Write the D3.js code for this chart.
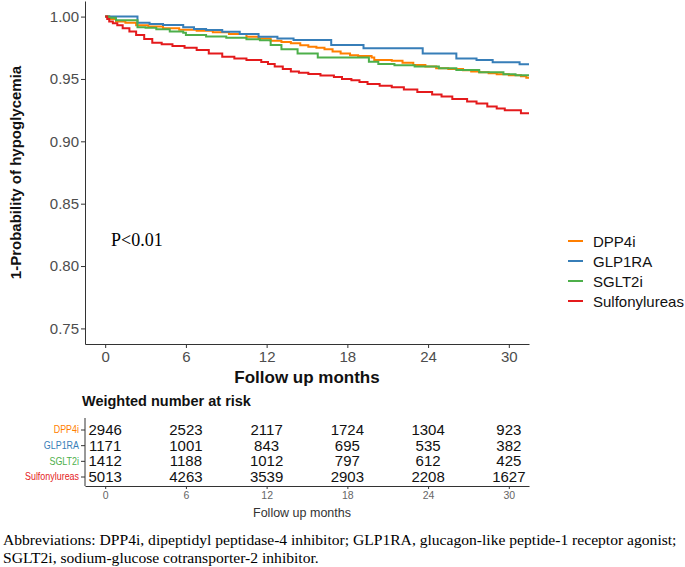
<!DOCTYPE html>
<html><head><meta charset="utf-8">
<script src="https://cdn.jsdelivr.net/npm/d3@7"></script>
<style>body{margin:0;background:#fff}svg{display:block}</style>
</head><body>
<svg id="c" width="685" height="567"></svg>
<script>
// ---- data ----
const groups = ["DPP4i", "GLP1RA", "SGLT2i", "Sulfonylureas"];
const colors = ["#FF7F00", "#377EB8", "#4DAF4A", "#E41A1C"];

const dppTime = [0,0.3,0.8,1.5,2.3,3.2,4.3,5.5,6.8,8.0,9.2,10.5,11.4,12.3,13.1,13.8,14.5,15.1,15.7,16.3,16.9,17.5,18.2,18.8,19.8,20.0,21.3,22.1,22.9,23.8,24.6,25.5,26.6,27.2,27.8,28.5,29.1,30.0,30.9,31.3];
const dppSurv = [1.0,0.998,0.996,0.995,0.993,0.992,0.9906,0.9895,0.9887,0.9875,0.986,0.9839,0.9825,0.9807,0.9796,0.9786,0.977,0.9758,0.975,0.9738,0.972,0.9705,0.969,0.9684,0.9673,0.9652,0.9646,0.963,0.9612,0.960,0.9585,0.958,0.957,0.956,0.9553,0.9545,0.9537,0.953,0.9522,0.951];

const glpTime = [0,2.4,3.3,4.3,5.8,6.6,7.5,8.7,10.0,11.4,12.8,14.0,16.8,19.2,23.6,26.1,27.6,28.8,30.8];
const glpSurv = [1.0,0.995,0.994,0.9933,0.9914,0.990,0.9892,0.9879,0.986,0.9839,0.9825,0.9812,0.9772,0.9746,0.9705,0.9665,0.9652,0.9633,0.9617];

const sgltTime = [0,0.3,0.8,2.4,3.0,3.8,4.8,5.8,6.0,7.5,9.0,10.5,11.5,12.3,13.1,14.3,15.8,19.6,20.3,21.5,23.0,24.8,26.1,27.8,29.6,30.5];
const sgltSurv = [1.0,0.999,0.997,0.9914,0.991,0.9898,0.988,0.987,0.9852,0.984,0.983,0.9818,0.981,0.9772,0.9738,0.9705,0.9673,0.9638,0.962,0.961,0.960,0.9585,0.9571,0.9553,0.9537,0.953];

const suTime = [0,0.15,0.3,0.57,0.9,1.3,1.8,2.3,2.9,3.5,4.2,5.0,5.9,6.8,7.7,8.7,9.6,10.5,11.6,12.1,12.6,13.2,13.8,14.4,15.1,16.0,17.0,17.6,18.3,18.9,19.5,20.4,21.3,22.2,23.2,24.3,25.0,25.8,26.9,27.6,28.4,29.1,29.7,30.9];
const suSurv = [1.0,0.998,0.996,0.9946,0.993,0.9906,0.988,0.9852,0.982,0.979,0.9778,0.9764,0.975,0.9732,0.9705,0.9678,0.9665,0.9652,0.9636,0.962,0.960,0.958,0.956,0.955,0.954,0.9528,0.9515,0.950,0.949,0.9475,0.946,0.9445,0.9434,0.9415,0.9395,0.9375,0.936,0.934,0.932,0.9304,0.928,0.9264,0.925,0.9225];

const seriesTime = [dppTime, glpTime, sgltTime, suTime];
const seriesSurv = [dppSurv, glpSurv, sgltSurv, suSurv];

const yTicks = [0.75, 0.80, 0.85, 0.90, 0.95, 1.00];
const xTicks = [0, 6, 12, 18, 24, 30];
const riskDPP4i = [2946, 2523, 2117, 1724, 1304, 923];
const riskGLP1RA = [1171, 1001, 843, 695, 535, 382];
const riskSGLT2i = [1412, 1188, 1012, 797, 612, 425];
const riskSU = [5013, 4263, 3539, 2903, 2208, 1627];
const riskRows = [riskDPP4i, riskGLP1RA, riskSGLT2i, riskSU];

// ---- drawing ----
const SANS = "'Liberation Sans', Arial, sans-serif";
const SERIF = "'Liberation Serif', 'Times New Roman', serif";
const svg = d3.select("#c");
svg.append("rect").attr("width", 685).attr("height", 567).attr("fill", "#fff");

const L = 85, R = 529, T = 1, B = 344;
const x = d3.scaleLinear().domain([-1.5, 31.5]).range([L, R]);
const y = d3.scaleLinear().domain([0.7375, 1.0125]).range([B, T]);

svg.append("clipPath").attr("id", "clip").append("rect")
  .attr("x", L).attr("y", T).attr("width", R - L).attr("height", B - T);

const line = d3.line().curve(d3.curveStepAfter).x(d => x(d[0])).y(d => y(d[1]));
const curves = svg.append("g").attr("clip-path", "url(#clip)");
seriesTime.forEach((ts, i) => {
  const pts = ts.map((t, j) => [t, seriesSurv[i][j]]);
  pts.push([31.6, seriesSurv[i][seriesSurv[i].length - 1]]);
  curves.append("path").datum(pts).attr("d", line)
    .attr("fill", "none").attr("stroke", colors[i]).attr("stroke-width", 2);
});

function styleAxis(g, fs) {
  g.select(".domain").attr("stroke", "#333").attr("stroke-width", 1);
  g.selectAll(".tick line").attr("stroke", "#333");
  g.selectAll(".tick text").attr("fill", "#4D4D4D").style("font-family", SANS).style("font-size", fs + "px");
}

const yAx = svg.append("g").attr("transform", `translate(${L},0)`)
  .call(d3.axisLeft(y).tickValues(yTicks).tickFormat(d3.format(".2f")).tickSize(4).tickPadding(2).tickSizeOuter(0));
styleAxis(yAx, 15);
const xAx = svg.append("g").attr("transform", `translate(0,${B})`)
  .call(d3.axisBottom(x).tickValues(xTicks).tickSize(4).tickPadding(3).tickSizeOuter(0));
styleAxis(xAx, 15);

svg.append("text").attr("transform", `translate(15,${(T + B) / 2}) rotate(-90)`)
  .attr("text-anchor", "middle").attr("dominant-baseline", "central")
  .style("font-family", SANS).style("font-weight", "bold").style("font-size", "15px").attr("fill", "#111")
  .text("1-Probability of hypoglycemia");
svg.append("text").attr("x", (L + R) / 2).attr("y", 383)
  .attr("text-anchor", "middle")
  .style("font-family", SANS).style("font-weight", "bold").style("font-size", "17px").attr("fill", "#111")
  .text("Follow up months");

svg.append("text").attr("x", 111).attr("y", 246)
  .style("font-family", SERIF).style("font-size", "18px").attr("fill", "#000")
  .text("P<0.01");

// legend
const leg = svg.append("g");
groups.forEach((g, i) => {
  const cy = 241 + i * 20;
  leg.append("line").attr("x1", 568).attr("x2", 583).attr("y1", cy).attr("y2", cy)
    .attr("stroke", colors[i]).attr("stroke-width", 2);
  leg.append("text").attr("x", 593).attr("y", cy).attr("dominant-baseline", "central")
    .style("font-family", SANS).style("font-size", "15px").attr("fill", "#111").text(g);
});

// risk table
svg.append("text").attr("x", 82).attr("y", 406)
  .style("font-family", SANS).style("font-weight", "bold").style("font-size", "14.5px").attr("fill", "#111")
  .text("Weighted number at risk");
const tTop = 418, tBot = 486;
const yr = d3.scalePoint().domain(groups).range([429.5, 476.5]);
const yrAx = svg.append("g").attr("transform", `translate(${L},0)`)
  .call(d3.axisLeft(yr).tickSize(4).tickPadding(2).tickSizeOuter(0));
yrAx.select(".domain").remove();
yrAx.selectAll(".tick line").attr("stroke", "#333");
yrAx.selectAll(".tick text").style("font-family", SANS).style("font-size", "10.5px")
  .attr("fill", (d, i) => colors[i])
  .attr("transform", "scale(0.85,1)")
  .attr("x", -6 / 0.85);
svg.append("line").attr("x1", L).attr("x2", L).attr("y1", tTop).attr("y2", tBot).attr("stroke", "#333");
const xr = svg.append("g").attr("transform", `translate(0,${tBot})`)
  .call(d3.axisBottom(x).tickValues(xTicks).tickSize(3).tickPadding(3).tickSizeOuter(0));
styleAxis(xr, 10.5);
xr.selectAll(".tick text").attr("fill", "#666");
riskRows.forEach((row, i) => {
  svg.append("g").selectAll("text").data(row).join("text")
    .attr("x", (d, j) => x(xTicks[j])).attr("y", yr(groups[i]))
    .attr("text-anchor", "middle").attr("dominant-baseline", "central")
    .style("font-family", SANS).style("font-size", "15px").attr("fill", "#111")
    .text(d => d);
});
svg.append("text").attr("x", 302).attr("y", 517).attr("text-anchor", "middle")
  .style("font-family", SANS).style("font-size", "12.5px").attr("fill", "#333")
  .text("Follow up months");

// footnote
const foot = svg.append("g").style("font-family", SERIF).style("font-size", "15.6px").attr("fill", "#000");
foot.append("text").attr("x", 3).attr("y", 545)
  .text("Abbreviations: DPP4i, dipeptidyl peptidase-4 inhibitor; GLP1RA, glucagon-like peptide-1 receptor agonist;");
foot.append("text").attr("x", 3).attr("y", 563)
  .text("SGLT2i, sodium-glucose cotransporter-2 inhibitor.");
</script>
</body></html>
